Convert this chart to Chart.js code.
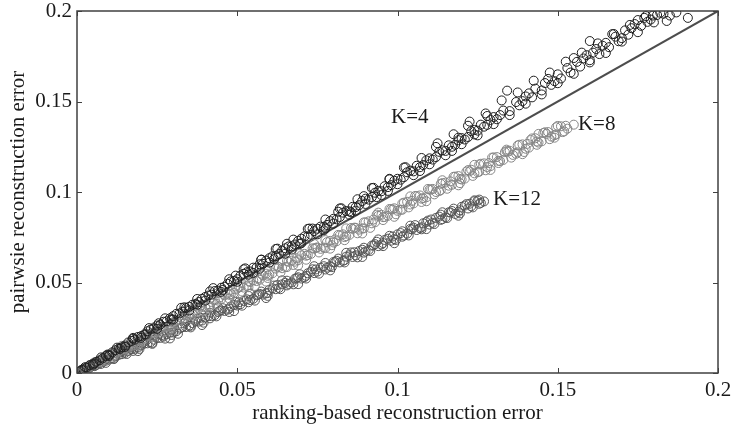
<!DOCTYPE html>
<html><head><meta charset="utf-8">
<script src="https://cdn.jsdelivr.net/npm/chart.js@4/dist/chart.umd.min.js"></script>
<style>html,body{margin:0;padding:0;background:#fff;} #wrap{width:733px;height:425px;}</style>
</head><body><div id="wrap"><canvas id="c" width="733" height="425"></canvas></div>
<script>
const xTitle = 'ranking-based reconstruction error';
const yTitle = 'pairwsie reconstruction error';
const tickValues = [0, 0.05, 0.1, 0.15, 0.2];
const tickLabels = ['0', '0.05', '0.1', '0.15', '0.2'];
const seriesNames = ['K=4', 'K=8', 'K=12'];
const labelX = [0.098, 0.1563, 0.1298];
const labelY = [0.1381, 0.1343, 0.0928];
const diagX = [0, 0.2];
const diagY = [0, 0.2];

const k4X = [0.001,0.003,0.004,0.006,0.007,0.009,0.010,0.012,0.013,0.015,
 0.016,0.018,0.019,0.021,0.022,0.024,0.025,0.027,0.028,0.030,
 0.031,0.033,0.034,0.036,0.037,0.039,0.040,0.042,0.043,0.045,
 0.046,0.048,0.049,0.051,0.052,0.054,0.055,0.057,0.058,0.060,
 0.061,0.063,0.065,0.066,0.068,0.070,0.071,0.073,0.075,0.076,
 0.078,0.080,0.081,0.083,0.085,0.086,0.088,0.090,0.091,0.093,
 0.095,0.096,0.098,0.100,0.101,0.103,0.105,0.106,0.108,0.110,
 0.111,0.113,0.115,0.116,0.118,0.120,0.121,0.123,0.125,0.126,
 0.128,0.130,0.131,0.133,0.1342,0.135,0.137,0.138,0.140,0.142,
 0.143,0.145,0.146,0.148,0.150,0.151,0.153,0.154,0.156,0.157,
 0.159,0.160,0.160,0.162,0.163,0.165,0.166,0.168,0.169,0.171,
 0.172,0.174,0.176,0.177,0.179,0.1797,0.181,0.183,0.187,0.1906,
 0.128,0.139,0.147,0.155,0.161,0.167,0.170,0.173,0.175,0.178,
 0.182,0.185,0.119,0.124,0.132,0.141,0.149,0.158,0.164,0.184,
 0.002,0.005,0.008,0.011,0.014,0.017,0.020,0.023,0.026,0.029,
 0.032,0.035,0.038,0.041,0.044,0.047,0.050,0.053,0.056,0.059,
 0.062,0.064,0.067,0.069,0.072,0.074,0.077,0.079,0.082,0.084,
 0.087,0.089,0.092,0.094,0.097,0.099,0.102,0.104,0.107,0.109,
 0.112,0.114,0.117,0.119,0.122,0.124,0.127,0.129,
 0.0025,0.0075,0.0125,0.0175,0.0225,0.0275,0.0325,0.0375,0.0425,0.0475,
 0.0525,0.0575,0.0625,0.0675,0.0725,0.0775,0.0825,0.0875,0.0925,0.0975,
 0.1025,0.1075,0.1125,0.1175,0.1225,0.1275,0.1325,0.1375,0.1425,0.1475,
 0.1525,0.1575,0.1625,0.1675,0.1725,0.1775,
 0.005,0.010,0.015,0.020,0.025,0.030,0.035,0.040,0.045,0.050,
 0.055,0.060,0.065,0.070,0.075,0.080,0.085,0.090,0.095,0.100,
 0.105,0.110,0.115,0.120,0.125,0.130,0.135,0.140,0.145,0.150,
 0.155,0.160,0.165,0.170,0.175,0.180,
 0.0015,0.0055,0.0095,0.0135,0.0175,0.0215,0.0255,0.0295,0.0335,0.0375,
 0.0415,0.0455,0.0495,0.0535,0.0575,0.0615,0.0655,0.0695,0.0735,0.0775,
 0.0815,0.0855,0.0895,0.0935,0.0975,
 0.052,0.057,0.062,0.067,0.072,0.077,0.082,0.087,0.092,0.097,
 0.102,0.107,0.112,0.117,0.122];
const k4Y = [0.0011,0.0030,0.0043,0.0062,0.0070,0.0094,0.0101,0.0126,0.0135,0.0152,
 0.0169,0.0184,0.0199,0.0213,0.0231,0.0246,0.0262,0.0283,0.0286,0.0314,
 0.0327,0.0339,0.0359,0.0377,0.0381,0.0410,0.0420,0.0433,0.0453,0.0471,
 0.0476,0.0506,0.0508,0.0538,0.0548,0.0561,0.0582,0.0601,0.0603,0.0634,
 0.0645,0.0657,0.0689,0.0699,0.0710,0.0742,0.0755,0.0764,0.0797,0.0809,
 0.0818,0.0852,0.0849,0.0886,0.0893,0.0918,0.0927,0.0963,0.0958,0.0996,
 0.1004,0.1032,0.1038,0.1073,0.1068,0.1109,0.1114,0.1145,0.1149,0.1186,
 0.1179,0.1222,0.1227,0.1258,0.1261,0.1298,0.1290,0.1336,0.1339,0.1372,
 0.1371,0.1414,0.1402,0.1450,0.1560,0.1447,0.1497,0.1479,0.1528,0.1523,
 0.1571,0.1561,0.1602,0.1592,0.1650,0.1627,0.1685,0.1660,0.1719,0.1693,
 0.1756,0.1728,0.1834,0.1790,0.1762,0.1824,0.1800,0.1858,0.1833,0.1893,
 0.1869,0.1928,0.1918,0.1962,0.1953,0.1975,0.1978,0.1985,0.1992,0.1962,
 0.1420,0.1502,0.1625,0.1740,0.1770,0.1872,0.1850,0.1905,0.1950,0.1940,
 0.1990,0.1975,0.1300,0.1318,0.1425,0.1545,0.1612,0.1738,0.1808,0.1945,
 0.0020,0.0052,0.0081,0.0114,0.0142,0.0177,0.0204,0.0240,0.0267,0.0302,
 0.0329,0.0366,0.0392,0.0428,0.0455,0.0493,0.0518,0.0557,0.0582,0.0621,
 0.0646,0.0676,0.0700,0.0730,0.0754,0.0784,0.0808,0.0839,0.0862,0.0895,
 0.0917,0.0950,0.0972,0.1006,0.1027,0.1062,0.1082,0.1118,0.1137,0.1175,
 0.1193,0.1230,0.1250,0.1286,0.1304,0.1343,0.1361,0.1398,
 0.0032,0.0086,0.0140,0.0194,0.0248,0.0302,0.0360,0.0409,0.0469,0.0518,
 0.0578,0.0626,0.0687,0.0737,0.0798,0.0848,0.0910,0.0960,0.1023,0.1073,
 0.1137,0.1188,0.1269,0.1319,0.1389,0.1434,0.1506,0.1550,0.1615,0.1660,
 0.1720,0.1770,0.1821,0.1873,0.1923,0.1972,
 0.0046,0.0094,0.0144,0.0194,0.0244,0.0295,0.0345,0.0400,0.0448,0.0504,
 0.0553,0.0610,0.0659,0.0717,0.0766,0.0825,0.0874,0.0934,0.0983,0.1043,
 0.1093,0.1153,0.1203,0.1264,0.1313,0.1375,0.1425,0.1488,0.1539,0.1601,
 0.1653,0.1716,0.1768,0.1831,0.1883,0.1937,
 0.0017,0.0053,0.0102,0.0133,0.0189,0.0213,0.0275,0.0295,0.0363,0.0377,
 0.0451,0.0459,0.0538,0.0543,0.0626,0.0629,0.0714,0.0713,0.0798,0.0798,
 0.0891,0.0888,0.0977,0.0972,0.1070,
 0.0573,0.0576,0.0685,0.0682,0.0796,0.0788,0.0909,0.0897,0.1022,0.1006,
 0.1135,0.1116,0.1249,0.1227,0.1366];

const k8X = [0.001,0.003,0.005,0.007,0.009,0.011,0.013,0.015,0.017,0.019,
 0.021,0.023,0.025,0.027,0.029,0.031,0.033,0.035,0.037,0.039,
 0.041,0.043,0.045,0.047,0.049,0.051,0.053,0.055,0.057,0.059,
 0.061,0.063,0.065,0.067,0.069,0.071,0.073,0.075,0.077,0.079,
 0.081,0.083,0.085,0.087,0.089,0.091,0.093,0.095,0.097,0.099,
 0.101,0.103,0.105,0.107,0.109,0.111,0.113,0.115,0.117,0.119,
 0.121,0.123,0.125,0.127,0.129,0.131,0.133,0.135,0.137,0.139,
 0.141,0.143,0.145,0.147,0.149,0.151,0.153,
 0.002,0.004,0.006,0.008,0.010,0.012,0.014,0.016,0.018,0.020,
 0.022,0.024,0.026,0.028,0.030,0.032,0.034,0.036,0.038,0.040,
 0.042,0.044,0.046,0.048,0.050,0.052,0.054,0.056,0.058,0.060,
 0.062,0.064,0.066,0.068,0.070,0.072,0.074,0.076,0.078,0.080,
 0.082,0.084,0.086,0.088,0.090,0.092,0.094,0.096,0.098,0.100,
 0.102,0.104,0.106,0.108,0.110,0.112,0.114,0.116,0.118,0.120,
 0.122,0.124,0.126,0.128,0.130,0.132,0.134,0.136,0.138,0.140,
 0.142,0.144,0.146,0.148,0.150,0.152,0.155,
 0.0015,0.0055,0.0095,0.0135,0.0175,0.0215,0.0255,0.0295,0.0335,0.0375,
 0.0415,0.0455,0.0495,0.0535,0.0575,0.0615,0.0655,0.0695,0.0735,0.0775,
 0.0815,0.0855,0.0895,0.0935,0.0975,0.1015,0.1055,0.1095,0.1135,0.1175,
 0.1215,0.1255,0.1295,0.1335,0.1375,0.1415,0.1455,0.1495,
 0.0035,0.0075,0.0115,0.0155,0.0195,0.0235,0.0275,0.0315,0.0355,0.0395,
 0.0435,0.0475,0.0515,0.0555,0.0595,0.0635,0.0675,0.0715,0.0755,0.0795,
 0.0835,0.0875,0.0915,0.0955,0.0995,0.1035,0.1075,0.1115,0.1155,0.1195,
 0.1235,0.1275,0.1315,0.1355,0.1395,0.1435,0.1475,0.1515,
 0.0025,0.0055,0.0085,0.0115,0.0145,0.0175,0.0205,0.0235,0.0265,0.0295,
 0.0325,0.0355,0.0385,0.0415,0.0445,0.0475,0.0505,0.0535,0.0565,0.0595,
 0.0625,0.0655,0.0685,0.0715,0.0745,0.0775,0.0805,0.0835,0.0865,0.0895,
 0.0925,0.0955,0.0985,0.1015,0.1045,0.1075,0.1105,0.1135,0.1165,0.1195,
 0.1225,0.1255,0.1285,0.1315,0.1345,0.1375,0.1405,0.1435,0.1465,0.1495,
 0.1525,
 0.004,0.009,0.014,0.019,0.024,0.029,0.034,0.039,0.044,0.049,
 0.054,0.059,0.064,0.069,0.074,0.079,0.084,0.089,0.094,0.099,
 0.104,0.109,0.114,0.119,0.124,0.129,0.134,0.139,0.144,0.149];
const k8Y = [0.0009,0.0029,0.0045,0.0067,0.0082,0.0105,0.0118,0.0143,0.0154,0.0180,
 0.0190,0.0218,0.0227,0.0255,0.0263,0.0292,0.0299,0.0329,0.0335,0.0366,
 0.0371,0.0402,0.0408,0.0439,0.0443,0.0476,0.0480,0.0512,0.0515,0.0549,
 0.0551,0.0585,0.0586,0.0621,0.0623,0.0658,0.0658,0.0694,0.0693,0.0730,
 0.0728,0.0766,0.0763,0.0802,0.0798,0.0838,0.0833,0.0874,0.0868,0.0910,
 0.0902,0.0946,0.0937,0.0981,0.0971,0.1017,0.1005,0.1052,0.1040,0.1088,
 0.1074,0.1123,0.1109,0.1158,0.1143,0.1193,0.1177,0.1228,0.1211,0.1263,
 0.1245,0.1297,0.1280,0.1331,0.1314,0.1363,0.1350,
 0.0019,0.0036,0.0057,0.0073,0.0094,0.0110,0.0132,0.0146,0.0169,0.0183,
 0.0206,0.0220,0.0243,0.0256,0.0280,0.0292,0.0318,0.0328,0.0355,0.0364,
 0.0392,0.0400,0.0429,0.0436,0.0466,0.0472,0.0503,0.0508,0.0540,0.0543,
 0.0577,0.0579,0.0614,0.0615,0.0650,0.0651,0.0687,0.0686,0.0723,0.0721,
 0.0760,0.0756,0.0796,0.0792,0.0832,0.0827,0.0868,0.0862,0.0905,0.0896,
 0.0941,0.0931,0.0977,0.0966,0.1013,0.1000,0.1049,0.1035,0.1085,0.1069,
 0.1121,0.1103,0.1156,0.1138,0.1191,0.1171,0.1226,0.1205,0.1261,0.1239,
 0.1296,0.1273,0.1330,0.1306,0.1365,0.1335,0.1372,
 0.0018,0.0059,0.0099,0.0139,0.0178,0.0217,0.0257,0.0297,0.0328,0.0368,
 0.0409,0.0438,0.0478,0.0508,0.0549,0.0589,0.0619,0.0659,0.0689,0.0734,
 0.0763,0.0801,0.0832,0.0875,0.0906,0.0937,0.0978,0.1017,0.1045,0.1084,
 0.1113,0.1152,0.1190,0.1220,0.1257,0.1287,0.1326,0.1358,
 0.0028,0.0061,0.0095,0.0129,0.0163,0.0198,0.0231,0.0271,0.0301,0.0342,
 0.0382,0.0411,0.0450,0.0481,0.0525,0.0556,0.0597,0.0626,0.0666,0.0706,
 0.0734,0.0772,0.0802,0.0845,0.0877,0.0915,0.0945,0.0987,0.1018,0.1049,
 0.1089,0.1120,0.1160,0.1190,0.1221,0.1261,0.1292,0.1331,
 0.0026,0.0047,0.0086,0.0099,0.0144,0.0151,0.0203,0.0205,0.0257,0.0256,
 0.0306,0.0319,0.0371,0.0369,0.0418,0.0432,0.0475,0.0474,0.0524,0.0537,
 0.0589,0.0585,0.0634,0.0648,0.0691,0.0690,0.0738,0.0751,0.0803,0.0799,
 0.0848,0.0861,0.0904,0.0902,0.0951,0.0963,0.1014,0.1010,0.1059,0.1072,
 0.1114,0.1112,0.1160,0.1172,0.1223,0.1219,0.1266,0.1279,0.1321,0.1318,
 0.1366,
 0.0044,0.0070,0.0150,0.0151,0.0252,0.0236,0.0348,0.0326,0.0441,0.0416,
 0.0531,0.0505,0.0618,0.0594,0.0713,0.0687,0.0799,0.0771,0.0886,0.0863,
 0.0976,0.0949,0.1065,0.1037,0.1150,0.1122,0.1234,0.1209,0.1321,0.1300];

const k12X = [0.001,0.003,0.005,0.007,0.009,0.011,0.013,0.015,0.017,0.019,
 0.021,0.023,0.025,0.027,0.029,0.031,0.033,0.035,0.037,0.039,
 0.041,0.043,0.045,0.047,0.049,0.051,0.053,0.055,0.057,0.059,
 0.061,0.063,0.065,0.067,0.069,0.071,0.073,0.075,0.077,0.079,
 0.081,0.083,0.085,0.087,0.089,0.091,0.093,0.095,0.097,0.099,
 0.101,0.103,0.105,0.107,0.109,0.111,0.113,0.115,0.117,0.119,
 0.121,0.123,0.125,0.127,
 0.002,0.004,0.006,0.008,0.010,0.012,0.014,0.016,0.018,0.020,
 0.022,0.024,0.026,0.028,0.030,0.032,0.034,0.036,0.038,0.040,
 0.042,0.044,0.046,0.048,0.050,0.052,0.054,0.056,0.058,0.060,
 0.062,0.064,0.066,0.068,0.070,0.072,0.074,0.076,0.078,0.080,
 0.082,0.084,0.086,0.088,0.090,0.092,0.094,0.096,0.098,0.100,
 0.102,0.104,0.106,0.108,0.110,0.112,0.114,0.116,0.118,0.120,
 0.122,0.124,0.126,
 0.0015,0.0055,0.0095,0.0135,0.0175,0.0215,0.0255,0.0295,0.0335,0.0375,
 0.0415,0.0455,0.0495,0.0535,0.0575,0.0615,0.0655,0.0695,0.0735,0.0775,
 0.0815,0.0855,0.0895,0.0935,0.0975,0.1015,0.1055,0.1095,0.1135,0.1175,
 0.1215,0.1255,
 0.0035,0.0075,0.0115,0.0155,0.0195,0.0235,0.0275,0.0315,0.0355,0.0395,
 0.0435,0.0475,0.0515,0.0555,0.0595,0.0635,0.0675,0.0715,0.0755,0.0795,
 0.0835,0.0875,0.0915,0.0955,0.0995,0.1035,0.1075,0.1115,0.1155,0.1195,
 0.1235,
 0.0025,0.0055,0.0085,0.0115,0.0145,0.0175,0.0205,0.0235,0.0265,0.0295,
 0.0325,0.0355,0.0385,0.0415,0.0445,0.0475,0.0505,0.0535,0.0565,0.0595,
 0.0625,0.0655,0.0685,0.0715,0.0745,0.0775,0.0805,0.0835,0.0865,0.0895,
 0.0925,0.0955,0.0985,0.1015,0.1045,0.1075,0.1105,0.1135,0.1165,0.1195,
 0.1225,0.1255,
 0.004,0.009,0.014,0.019,0.024,0.029,0.034,0.039,0.044,0.049,
 0.054,0.059,0.064,0.069,0.074,0.079,0.084,0.089,0.094,0.099,
 0.104,0.109,0.114,0.119,0.124];
const k12Y = [0.0008,0.0023,0.0038,0.0053,0.0068,0.0083,0.0100,0.0111,0.0131,0.0141,
 0.0162,0.0171,0.0193,0.0201,0.0223,0.0231,0.0254,0.0261,0.0284,0.0290,
 0.0315,0.0320,0.0346,0.0350,0.0376,0.0380,0.0407,0.0410,0.0437,0.0440,
 0.0468,0.0470,0.0498,0.0500,0.0529,0.0530,0.0559,0.0560,0.0590,0.0590,
 0.0620,0.0620,0.0651,0.0650,0.0681,0.0680,0.0712,0.0710,0.0742,0.0740,
 0.0773,0.0770,0.0803,0.0800,0.0834,0.0830,0.0864,0.0860,0.0895,0.0890,
 0.0925,0.0921,0.0952,0.0948,
 0.0015,0.0030,0.0044,0.0061,0.0074,0.0092,0.0104,0.0122,0.0134,0.0153,
 0.0164,0.0184,0.0194,0.0215,0.0224,0.0245,0.0254,0.0276,0.0284,0.0306,
 0.0314,0.0337,0.0343,0.0368,0.0373,0.0398,0.0403,0.0429,0.0433,0.0459,
 0.0463,0.0490,0.0492,0.0521,0.0522,0.0551,0.0552,0.0582,0.0582,0.0613,
 0.0611,0.0643,0.0641,0.0674,0.0671,0.0704,0.0701,0.0735,0.0731,0.0766,
 0.0760,0.0796,0.0790,0.0827,0.0820,0.0857,0.0850,0.0888,0.0879,0.0918,
 0.0909,0.0949,0.0940,
 0.0014,0.0048,0.0081,0.0114,0.0146,0.0178,0.0212,0.0238,0.0274,0.0300,
 0.0333,0.0358,0.0392,0.0426,0.0450,0.0483,0.0510,0.0546,0.0573,0.0608,
 0.0632,0.0666,0.0692,0.0725,0.0758,0.0783,0.0817,0.0842,0.0875,0.0908,
 0.0933,0.0958,
 0.0022,0.0050,0.0077,0.0105,0.0133,0.0161,0.0190,0.0217,0.0252,0.0278,
 0.0313,0.0337,0.0372,0.0400,0.0426,0.0463,0.0490,0.0522,0.0549,0.0585,
 0.0611,0.0639,0.0674,0.0701,0.0735,0.0760,0.0794,0.0823,0.0856,0.0882,
 0.0915,
 0.0022,0.0038,0.0070,0.0080,0.0118,0.0122,0.0166,0.0166,0.0210,0.0210,
 0.0250,0.0261,0.0305,0.0302,0.0343,0.0356,0.0391,0.0391,0.0432,0.0442,
 0.0486,0.0484,0.0524,0.0537,0.0572,0.0572,0.0613,0.0623,0.0667,0.0665,
 0.0705,0.0718,0.0754,0.0753,0.0794,0.0805,0.0848,0.0846,0.0887,0.0899,
 0.0935,0.0935,
 0.0036,0.0056,0.0124,0.0121,0.0207,0.0191,0.0287,0.0265,0.0363,0.0342,
 0.0438,0.0414,0.0512,0.0491,0.0590,0.0567,0.0664,0.0641,0.0738,0.0717,
 0.0814,0.0795,0.0888,0.0869,0.0954];

const FONT = 'Liberation Serif';
const pts = (xs, ys) => xs.map((v, i) => ({x: v, y: ys[i]}));
const tickCb = (value) => {
  const i = tickValues.findIndex(v => Math.abs(v - value) < 1e-9);
  return i >= 0 ? tickLabels[i] : '';
};

const framePlugin = {
  id: 'frame',
  afterDatasetsDraw(chart) {
    const {ctx, chartArea: a, scales: {x, y}} = chart;
    ctx.save();
    ctx.strokeStyle = '#404040';
    ctx.lineWidth = 1.5;
    ctx.strokeRect(a.left, a.top, a.right - a.left, a.bottom - a.top);
    ctx.lineWidth = 1;
    ctx.beginPath();
    tickValues.forEach(v => {
      const px = Math.round(x.getPixelForValue(v)) + 0.5;
      ctx.moveTo(px, a.bottom); ctx.lineTo(px, a.bottom - 5);
      ctx.moveTo(px, a.top); ctx.lineTo(px, a.top + 5);
      const py = Math.round(y.getPixelForValue(v)) + 0.5;
      ctx.moveTo(a.left, py); ctx.lineTo(a.left + 5, py);
      ctx.moveTo(a.right, py); ctx.lineTo(a.right - 5, py);
    });
    ctx.stroke();
    ctx.font = '21px "' + FONT + '"';
    ctx.fillStyle = '#1a1a1a';
    ctx.textAlign = 'left';
    ctx.textBaseline = 'alphabetic';
    seriesNames.forEach((n, i) => {
      ctx.fillText(n, x.getPixelForValue(labelX[i]), y.getPixelForValue(labelY[i]));
    });
    ctx.restore();
  }
};

new Chart(document.getElementById('c'), {
  type: 'scatter',
  data: {
    datasets: [
      {label: seriesNames[0], data: pts(k4X, k4Y), borderColor: '#1f1f1f', backgroundColor: 'rgba(0,0,0,0)', borderWidth: 1, pointRadius: 4.5},
      {label: seriesNames[1], data: pts(k8X, k8Y), borderColor: '#858585', backgroundColor: 'rgba(0,0,0,0)', borderWidth: 1, pointRadius: 4.5},
      {label: seriesNames[2], data: pts(k12X, k12Y), borderColor: '#555555', backgroundColor: 'rgba(0,0,0,0)', borderWidth: 1, pointRadius: 4.5},
      {label: 'diag', data: pts(diagX, diagY), showLine: true, borderColor: '#4d4d4d', borderWidth: 2, pointRadius: 0, fill: false}
    ]
  },
  options: {
    responsive: false,
    animation: false,
    layout: {padding: {top: 11, right: 15, left: 0, bottom: 0}, autoPadding: false},
    plugins: {legend: {display: false}, tooltip: {enabled: false}},
    scales: {
      x: {
        type: 'linear', min: 0, max: 0.2,
        grid: {display: false, drawTicks: false},
        border: {display: false},
        ticks: {stepSize: 0.05, padding: 5, maxRotation: 0, color: '#1a1a1a', font: {family: FONT, size: 21}, callback: tickCb},
        title: {display: true, text: xTitle, color: '#1a1a1a', font: {family: FONT, size: 21, lineHeight: 1}, padding: {top: 0, bottom: 1}},
        afterFit(s) { s.height = 52; s.paddingLeft = 0; s.paddingRight = 0; }
      },
      y: {
        type: 'linear', min: 0, max: 0.2,
        grid: {display: false, drawTicks: false},
        border: {display: false},
        ticks: {stepSize: 0.05, padding: 5, color: '#1a1a1a', font: {family: FONT, size: 21}, callback: tickCb},
        title: {display: true, text: yTitle, color: '#1a1a1a', font: {family: FONT, size: 21, lineHeight: 1}, padding: {top: 8, bottom: 0}},
        afterFit(s) { s.width = 77; s.paddingTop = 0; s.paddingBottom = 0; }
      }
    }
  },
  plugins: [framePlugin]
});
</script>
</body></html>
